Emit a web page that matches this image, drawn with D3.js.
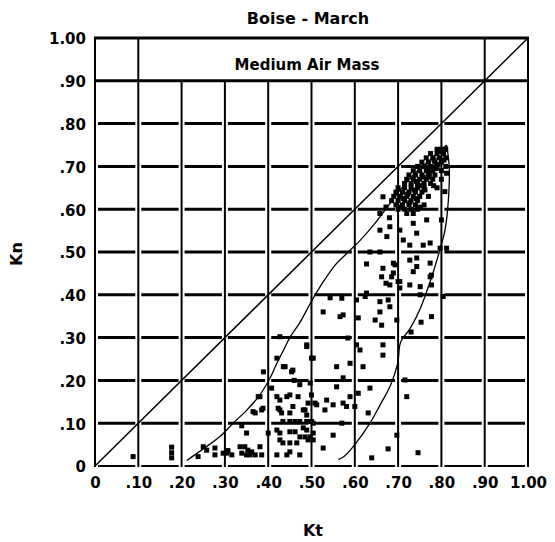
<!DOCTYPE html>
<html>
<head>
<meta charset="utf-8">
<script src="https://cdn.jsdelivr.net/npm/d3@7"></script>
<style>
  body { margin: 0; background: #fff; }
  text { font-family: "DejaVu Sans", sans-serif; font-weight: bold; fill: #000; }
</style>
</head>
<body>
<script>
const w = 555;
const h = 542;

const tickValues = [0, .1, .2, .3, .4, .5, .6, .7, .8, .9, 1];
const xTickLabels = ["0", ".10", ".20", ".30", ".40", ".50", ".60", ".70", ".80", ".90", "1.00"];
const yTickLabels = ["0", ".10", ".20", ".30", ".40", ".50", ".60", ".70", ".80", ".90", "1.00"];

// envelope around the observations (Kt, Kn)
const envelopeLeft = [[.212,.013],[.25,.04],[.29,.07],[.319,.10],[.35,.13],[.38,.165],[.404,.205],[.42,.24],
  [.435,.27],[.45,.30],[.473,.335],[.50,.385],[.527,.43],[.555,.47],[.585,.50],[.615,.53],[.645,.565],
  [.675,.605],[.705,.645],[.74,.685],[.78,.72],[.812,.75]];
const envelopeRight = [[.812,.75],[.818,.70],[.816,.62],[.808,.55],[.795,.50],[.777,.44],[.752,.37],
  [.727,.32],[.706,.29],[.699,.24],[.683,.19],[.657,.14],[.635,.10],[.60,.05],[.575,.022],[.562,.015]];

// hourly points (Kt, Kn)
const lowPoints = [[.088,.022],[.177,.044],[.177,.031],[.177,.019],[.238,.022],[.25,.045],[.258,.037],
  [.277,.042],[.277,.026],[.296,.030],[.304,.03],[.307,.036],[.316,.026],
  [.335,.045],[.346,.045],[.353,.037],[.362,.033],[.339,.030],[.35,.026],[.358,.026],[.370,.026],
  [.381,.045],[.385,.026],[.35,.077],[.40,.077],[.339,.094],[.365,.127],[.385,.131],[.377,.162],
  [.370,.124],[.388,.135],[.381,.162],[.408,.182],[.389,.22]];
const midPoints = [[.420,.162],[.427,.154],[.443,.162],[.469,.162],[.45,.166],[.50,.166],[.423,.135],
  [.427,.131],[.431,.124],[.450,.124],[.457,.139],[.481,.131],[.485,.131],[.492,.147],[.434,.104],
  [.45,.104],[.462,.104],[.473,.104],[.489,.104],[.50,.104],[.420,.084],[.427,.077],[.45,.08],
  [.462,.08],[.481,.089],[.473,.068],[.485,.068],[.427,.061],[.434,.054],[.45,.054],[.466,.054],
  [.492,.061],[.420,.026],[.443,.026],[.473,.026],[.45,.033],[.42,.252],[.427,.302],[.439,.232],
  [.457,.224],[.435,.232],[.454,.22],[.489,.283],[.50,.252],[.473,.19],[.46,.20],
  [.489,.119],[.508,.147],[.512,.143],[.535,.154],[.55,.143],[.531,.131],[.573,.147],[.581,.139],
  [.600,.139],[.504,.10],[.570,.10],[.489,.084],[.497,.068],[.504,.061],[.504,.077],[.55,.072],
  [.527,.042],[.497,.194],[.573,.206],[.558,.185],[.589,.162],[.608,.17],[.635,.182],[.631,.124],
  [.639,.019],[.677,.04],[.697,.072],[.720,.162],[.746,.031],[.716,.201]];
const upperPoints = [[.489,.279],[.504,.252],[.527,.36],[.573,.353],[.566,.349],[.558,.232],[.589,.24],
  [.619,.232],[.584,.299],[.604,.283],[.612,.271],[.665,.283],[.665,.259],[.608,.346],[.570,.392],
  [.604,.388],[.624,.396],[.543,.393],[.658,.384],[.677,.388],[.681,.372],[.658,.36],[.647,.341],
  [.662,.329],[.697,.341],[.730,.313],[.753,.336],[.777,.349],[.627,.472],[.665,.462],[.693,.470],
  [.685,.442],[.672,.427],[.700,.431],[.727,.423],[.704,.416],[.727,.481],[.743,.486],[.735,.454],
  [.777,.446],[.777,.423],[.627,.404],[.751,.40],[.804,.396],[.751,.419],[.774,.442],[.774,.474],
  [.743,.466],[.681,.423],[.658,.551],[.681,.559],[.674,.536],[.704,.551],[.735,.567],[.766,.575],
  [.743,.544],[.712,.528],[.727,.516],[.758,.516],[.774,.521],[.797,.509],[.812,.509],[.635,.50],
  [.658,.50],[.689,.474],[.662,.442],[.689,.451],[.704,.431],[.80,.575],[.808,.641],[.812,.684],
  [.665,.629],[.658,.59],[.672,.605],[.68,.58]];
const clusterPoints = [[.79,.74],[.80,.74],[.81,.74],[.775,.73],[.79,.73],[.805,.73],[.765,.72],[.78,.72],
  [.795,.72],[.81,.72],[.755,.71],[.77,.71],[.785,.71],[.80,.71],[.745,.70],[.76,.70],[.775,.70],
  [.79,.70],[.81,.70],[.735,.69],[.75,.69],[.765,.69],[.78,.69],[.80,.69],[.725,.68],[.74,.68],
  [.755,.68],[.77,.68],[.785,.68],[.72,.67],[.735,.67],[.75,.67],[.765,.67],[.78,.67],[.80,.67],
  [.715,.66],[.73,.66],[.745,.66],[.76,.66],[.775,.66],[.70,.65],[.715,.65],[.73,.65],[.745,.65],
  [.76,.65],[.79,.65],[.695,.64],[.71,.64],[.725,.64],[.74,.64],[.755,.64],[.69,.63],[.705,.63],
  [.72,.63],[.735,.63],[.75,.63],[.77,.63],[.685,.62],[.70,.62],[.715,.62],[.73,.62],[.745,.62],
  [.695,.61],[.71,.61],[.725,.61],[.74,.61],[.76,.61],[.70,.60],[.715,.60],[.73,.60],[.745,.60],
  [.72,.59],[.735,.59],
  [.797,.735],[.783,.715],[.792,.705],[.768,.695],[.772,.685],[.758,.675],[.742,.665],[.752,.655],
  [.737,.645],[.722,.635],[.712,.625],[.727,.615],[.742,.625],[.707,.605],[.752,.605],[.762,.645],
  [.782,.655],[.772,.675],[.788,.695],[.806,.715]];

const svg = d3.select('body').append('svg')
    .attr('width', w)
    .attr('height', h);

const x = d3.scaleLinear().domain([0, 1]).range([95, 528]);
const y = d3.scaleLinear().domain([0, 1]).range([466, 38]);

// horizontal grid: broken around every vertical line
const gap = 3;
tickValues.slice(0, 9).forEach((v) => {
    for (let i = 0; i < 10; i++) {
        svg.append('line')
            .attr('x1', x(tickValues[i]) + gap)
            .attr('x2', x(tickValues[i + 1]) - gap)
            .attr('y1', y(v)).attr('y2', y(v))
            .attr('stroke', '#000')
            .attr('stroke-width', v === 0 ? 2 : 3);
    }
});
svg.append('line')
    .attr('x1', x(0)).attr('x2', x(1))
    .attr('y1', y(.9)).attr('y2', y(.9))
    .attr('stroke', '#000').attr('stroke-width', 3);
svg.append('line')
    .attr('x1', x(0) - 1).attr('x2', x(1) + 1)
    .attr('y1', y(1)).attr('y2', y(1))
    .attr('stroke', '#000').attr('stroke-width', 3);

// vertical grid
tickValues.forEach((v) => {
    const full = v <= .1 || v >= .9;
    svg.append('line')
        .attr('x1', x(v)).attr('x2', x(v))
        .attr('y1', y(0) + 1)
        .attr('y2', full ? y(1) : y(.9))
        .attr('stroke', '#000')
        .attr('stroke-width', 2);
});

// 1:1 line
svg.append('line')
    .attr('x1', x(0)).attr('y1', y(0))
    .attr('x2', x(1)).attr('y2', y(1))
    .attr('stroke', '#000').attr('stroke-width', 1.5);

const line = d3.line()
    .x((d) => x(d[0]))
    .y((d) => y(d[1]))
    .curve(d3.curveCatmullRom);

[envelopeLeft, envelopeRight].forEach((env) => {
    svg.append('path')
        .attr('d', line(env))
        .attr('fill', 'none')
        .attr('stroke', '#000')
        .attr('stroke-width', 1.3);
});

const size = 5;
svg.selectAll('rect.pt')
    .data(lowPoints.concat(midPoints, upperPoints, clusterPoints))
    .enter()
    .append('rect')
        .attr('class', 'pt')
        .attr('x', (d) => x(d[0]) - size / 2)
        .attr('y', (d) => y(d[1]) - size / 2)
        .attr('width', size)
        .attr('height', size)
        .attr('fill', '#000');

// tick labels
const yAxis = d3.axisLeft(y)
    .tickValues(tickValues)
    .tickFormat((d, i) => yTickLabels[i])
    .tickSize(0)
    .tickPadding(9);
const gy = svg.append('g').attr('transform', 'translate(95,1)').call(yAxis);
gy.select('.domain').remove();
gy.selectAll('text').attr('font-size', 15).attr('font-family', null);

const xAxis = d3.axisBottom(x)
    .tickValues(tickValues)
    .tickFormat((d, i) => xTickLabels[i])
    .tickSize(0)
    .tickPadding(11);
const gx = svg.append('g').attr('transform', 'translate(0,466)').call(xAxis);
gx.select('.domain').remove();
gx.selectAll('text').attr('font-size', 15).attr('font-family', null);

svg.append('text')
    .attr('x', 308).attr('y', 24)
    .attr('text-anchor', 'middle')
    .attr('font-size', 16)
    .text('Boise - March');

svg.append('text')
    .attr('x', 307).attr('y', 70)
    .attr('text-anchor', 'middle')
    .attr('font-size', 15)
    .text('Medium Air Mass');

svg.append('text')
    .attr('x', 313).attr('y', 536)
    .attr('text-anchor', 'middle')
    .attr('font-size', 16)
    .text('Kt');

svg.append('text')
    .attr('transform', 'translate(22,254) rotate(-90)')
    .attr('text-anchor', 'middle')
    .attr('font-size', 16)
    .text('Kn');
</script>
</body>
</html>
